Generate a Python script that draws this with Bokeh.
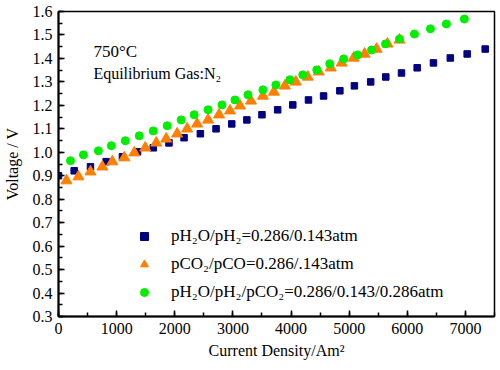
from bokeh.plotting import figure
from bokeh.models import (Range1d, SingleIntervalTicker, PrintfTickFormatter, Label,
                          Legend, LegendItem)
from bokeh.embed import file_html
from bokeh.resources import INLINE

# ---- data ----
h2_x = [0, 270, 550, 820, 1100, 1360, 1630, 1900, 2160, 2440, 2710, 2980, 3240, 3500,
        3770, 4030, 4300, 4560, 4840, 5090, 5370, 5630, 5900, 6170, 6450, 6740, 7030, 7340]
h2_y = [0.900, 0.921, 0.938, 0.960, 0.981, 1.002, 1.019, 1.040, 1.062, 1.079, 1.100, 1.121,
        1.138, 1.160, 1.181, 1.202, 1.223, 1.240, 1.262, 1.283, 1.300, 1.321, 1.338, 1.360,
        1.381, 1.402, 1.419, 1.440]

co_x = [137, 343, 549, 755, 926, 1132, 1304, 1492, 1681, 1852, 2041, 2213, 2384, 2573, 2762,
        2950, 3122, 3310, 3516, 3705, 3894, 4082, 4288, 4477, 4683, 4871, 5077, 5266, 5472,
        5660, 5866]
co_y = [0.879, 0.896, 0.917, 0.938, 0.960, 0.977, 0.998, 1.019, 1.040, 1.057, 1.079, 1.100,
        1.121, 1.138, 1.160, 1.177, 1.198, 1.219, 1.240, 1.257, 1.283, 1.300, 1.321, 1.343,
        1.360, 1.381, 1.402, 1.419, 1.440, 1.462, 1.479]

mix_x = [206, 429, 686, 909, 1149, 1389, 1630, 1870, 2110, 2333, 2573, 2813, 3036, 3259,
         3516, 3739, 3979, 4202, 4443, 4666, 4906, 5146, 5386, 5626, 5866, 6123, 6398, 6672,
         6981]
mix_y = [0.964, 0.989, 1.006, 1.028, 1.049, 1.070, 1.091, 1.113, 1.138, 1.160, 1.181, 1.202,
         1.223, 1.245, 1.266, 1.287, 1.309, 1.330, 1.351, 1.377, 1.398, 1.415, 1.436, 1.462,
         1.483, 1.504, 1.526, 1.547, 1.568]

series_labels = ["pH\u2082O/pH\u2082=0.286/0.143atm",
                 "pCO\u2082/pCO=0.286/.143atm",
                 "pH\u2082O/pH\u2082/pCO\u2082=0.286/0.143/0.286atm"]
x_title = "Current Density/Am\u00b2"
y_title = "Voltage / V"
note1 = "750\u00b0C"
note2 = "Equilibrium Gas:N\u2082"

FONT = "Times New Roman"
FONT_LEGEND = "Liberation Serif"

p = figure(width=497, height=364, output_backend="svg", toolbar_location=None,
           x_range=Range1d(0, 7500), y_range=Range1d(0.3, 1.6),
           min_border_left=58, min_border_right=3, min_border_top=11, min_border_bottom=48)
p.xgrid.visible = False
p.ygrid.visible = False
p.outline_line_color = "black"
p.outline_line_width = 1.5
p.outline_line_alpha = 1.0
p.background_fill_color = "white"
p.border_fill_color = "white"

p.xaxis.ticker = SingleIntervalTicker(interval=1000, num_minor_ticks=2)
p.yaxis.ticker = SingleIntervalTicker(interval=0.1, num_minor_ticks=2)
p.yaxis.formatter = PrintfTickFormatter(format="%.1f")
p.xaxis.axis_label = x_title
p.yaxis.axis_label = y_title
p.xaxis.axis_label_standoff = 5
p.yaxis.axis_label_standoff = 9
for ax in (p.xaxis[0], p.yaxis[0]):
    ax.axis_line_width = 2
    ax.axis_line_color = "black"
    ax.major_tick_in = 6
    ax.major_tick_out = 0
    ax.minor_tick_in = 4
    ax.minor_tick_out = 0
    ax.major_tick_line_width = 1.5
    ax.minor_tick_line_width = 1.5
    ax.major_label_text_font = FONT
    ax.major_label_text_font_size = "16px"
    ax.major_label_text_color = "black"
    ax.major_label_standoff = 6
    ax.axis_label_text_font = FONT
    ax.axis_label_text_font_size = "16px"
    ax.axis_label_text_font_style = "normal"
    ax.axis_label_text_color = "black"

r1 = p.scatter(h2_x, h2_y, marker="square", size=6.5, color="#000080")
r2 = p.scatter(co_x, co_y, marker="triangle", size=11, color="#FF7F00")
r3 = p.scatter(mix_x, mix_y, marker="circle", size=8, color="#00EE00")

legend = Legend(items=[LegendItem(label=series_labels[0], renderers=[r1]),
                       LegendItem(label=series_labels[1], renderers=[r2]),
                       LegendItem(label=series_labels[2], renderers=[r3])],
                location=(76, 14), padding=0, margin=0, spacing=8,
                glyph_width=20, glyph_height=20, label_height=20,
                label_standoff=17, border_line_color=None, background_fill_alpha=0,
                label_text_font=FONT_LEGEND, label_text_font_size="17px",
                label_text_color="black")
p.add_layout(legend, "center")

p.add_layout(Label(x=600, y=1.428, text=note1, text_font=FONT, text_font_size="17px",
                   text_baseline="middle", text_color="black"))
p.add_layout(Label(x=600, y=1.334, text=note2, text_font=FONT, text_font_size="16px",
                   text_baseline="middle", text_color="black"))

open("out.html", "w").write(file_html(p, INLINE))
